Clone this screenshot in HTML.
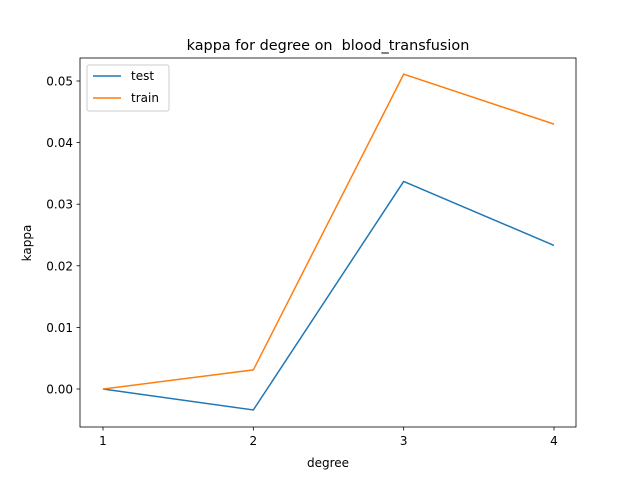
<!DOCTYPE html>
<html><head><meta charset="utf-8"><style>body{margin:0;background:#fff}svg{display:block;font-family:"DejaVu Sans","Liberation Sans",sans-serif}</style></head>
<body>
<svg id="chart" width="640" height="480">
<rect x="0" y="0" width="640" height="480" fill="#fff"/>
<text x="328" y="50" text-anchor="middle" font-size="14.4" style="white-space:pre">kappa for degree on  blood_transfusion</text>
<text x="328" y="467" text-anchor="middle" font-size="12">degree</text>
<text x="31" y="243" text-anchor="middle" font-size="12" transform="rotate(-90 31 243)">kappa</text>
<g id="ticks"></g>
<g id="lines"></g>
<rect x="80" y="58" width="496" height="369" fill="none" stroke="#000" stroke-width="0.8"/>
<g>
<rect x="87" y="65" width="82" height="46" rx="2" fill="#fff" fill-opacity="0.8" stroke="#ccc"/>
<line x1="93" y1="76" x2="121" y2="76" stroke="#1f77b4" stroke-width="1.5"/>
<text x="131" y="80" font-size="12">test</text>
<line x1="93" y1="98" x2="121" y2="98" stroke="#ff7f0e" stroke-width="1.5"/>
<text x="131" y="102" font-size="12">train</text>
</g>
</svg>
<script>
const degrees = [1, 2, 3, 4];
const testValues = [0.0, -0.0034, 0.0337, 0.0233];
const trainValues = [0.0, 0.0031, 0.0511, 0.0430];
const yTicks = [0.00, 0.01, 0.02, 0.03, 0.04, 0.05];
const yTickLabels = ["0.00", "0.01", "0.02", "0.03", "0.04", "0.05"];
const xTicks = [1, 2, 3, 4];

const NS = "http://www.w3.org/2000/svg";
function xs(v){ return 103 + (v - 1) * (554 - 103) / 3; }
function ys(v){ return 389 - v * (389 - 81) / 0.05; }
function mk(tag, attrs, parent){ const e = document.createElementNS(NS, tag); for (const k in attrs) e.setAttribute(k, attrs[k]); parent.appendChild(e); return e; }
const tg = document.getElementById('ticks');
xTicks.forEach(t => {
  const l = mk('line', {x1: xs(t), x2: xs(t), y1: 427, y2: 430.5, stroke: '#000', 'stroke-width': 0.8}, tg);
  
  
  const tx = mk('text', {x: xs(t), y: 445, 'text-anchor': 'middle', 'font-size': 12}, tg);
  tx.textContent = t;
  
  
});
yTicks.forEach((t, i) => {
  const l = mk('line', {x1: 76.5, x2: 80, y1: ys(t), y2: ys(t), stroke: '#000', 'stroke-width': 0.8}, tg);
  
  
  const tx = mk('text', {x: 73, y: ys(t) + 4.5, 'text-anchor': 'end', 'font-size': 12}, tg);
  tx.textContent = yTickLabels[i];
  
  
});
const lg = document.getElementById('lines');
function line(vals, color, name){
  const p = mk('polyline', {points: degrees.map((d, i) => xs(d) + ',' + ys(vals[i])).join(' '), fill: 'none', stroke: color, 'stroke-width': 1.5}, lg);
  
  
}
line(testValues, '#1f77b4', 'test-line');
line(trainValues, '#ff7f0e', 'train-line');
</script>
</body></html>
